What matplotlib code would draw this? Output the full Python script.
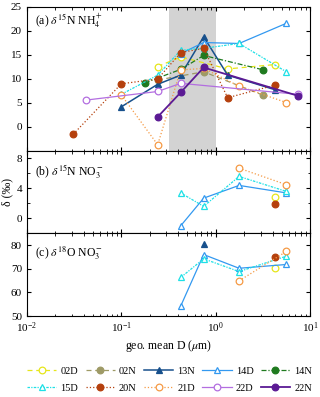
import numpy as np
import matplotlib
matplotlib.use('Agg')
import matplotlib.pyplot as plt
from matplotlib.ticker import LogLocator, NullFormatter, MultipleLocator

plt.rcParams['font.family'] = ['Liberation Serif', 'DejaVu Serif']
plt.rcParams['mathtext.fontset'] = 'stix'
plt.rcParams['font.size'] = 8

# geo. mean diameter of each size bin (um)
d_bins = [0.031, 0.042, 0.1, 0.178, 0.243, 0.426, 0.746, 1.34, 1.77, 3.2, 4.2, 5.6, 7.46]

# (a) d15N NH4+  : (bin index, value)
nh4 = {
    '02D': ([4, 5, 7, 10], [12.6, 14.6, 12.1, 13.0]),
    '02N': ([4, 6, 9], [9.8, 11.5, 6.6]),
    '13N': ([2, 4, 5, 6, 7, 10], [4.2, 8.9, 10.8, 18.8, 10.8, 7.8]),
    '14D': ([5, 6, 8, 11], [15.3, 17.6, 17.4, 21.6]),
    '14N': ([3, 5, 6, 9], [9.2, 12.0, 14.9, 11.9]),
    '15D': ([2, 4, 5, 6, 8, 11], [6.8, 10.8, 16.0, 16.4, 17.4, 11.5]),
    '20N': ([0, 2, 4, 5, 6, 7, 10], [-1.5, 9.0, 10.0, 15.5, 16.4, 6.1, 8.7]),
    '21D': ([2, 4, 5, 6, 8, 11], [6.7, -3.7, 11.9, 12.2, 8.5, 5.1]),
    '22D': ([1, 4, 5, 12], [5.6, 7.4, 9.1, 6.8]),
    '22N': ([4, 5, 6, 12], [2.1, 7.2, 12.4, 6.5]),
}

# (b) d15N NO3-
no3_n = {
    '02D': ([10], [2.8]),
    '14D': ([5, 6, 8, 11], [-1.0, 2.7, 4.4, 3.4]),
    '15D': ([5, 6, 8, 11], [3.4, 1.6, 5.6, 3.6]),
    '20N': ([10], [1.9]),
    '21D': ([8, 11], [6.7, 4.5]),
}

# (c) d18O NO3-
no3_o = {
    '02D': ([10], [70.3]),
    '13N': ([6], [80.3]),
    '14D': ([5, 6, 8, 11], [54.2, 76.0, 70.2, 71.8]),
    '15D': ([5, 6, 8, 11], [66.3, 74.2, 68.8, 75.3]),
    '20N': ([10], [75.0]),
    '21D': ([8, 11], [64.9, 77.3]),
}

samples = ['02D', '02N', '13N', '14D', '14N', '15D', '20N', '21D', '22D', '22N']
colors = {'02D': '#e6e61a', '02N': '#9e9a66', '13N': '#17508c', '14D': '#3399f0',
          '14N': '#1f7a1f', '15D': '#1ee0e6', '20N': '#b5400d', '21D': '#f59a45',
          '22D': '#b36ee0', '22N': '#5b1a94'}
lstyle = {'02D': (0, (4, 3)), '02N': (0, (4, 3)), '13N': '-', '14D': '-',
          '14N': (0, (4, 1.5, 1, 1.5)), '15D': (0, (2, 1, 1, 1)), '20N': ':', '21D': ':',
          '22D': '-', '22N': '-'}
marker = {'02D': 'o', '02N': 'o', '13N': '^', '14D': '^', '14N': 'o', '15D': '^',
          '20N': 'o', '21D': 'o', '22D': 'o', '22N': 'o'}
hollow = {'02D', '14D', '15D', '21D', '22D'}
lw = {'22N': 1.3, '13N': 1.1}

fig = plt.figure(figsize=(3.2, 3.97), dpi=100)
L, R = 0.084, 0.969
ax_a = fig.add_axes([L, 1 - 151 / 397, R - L, 144 / 397])
ax_b = fig.add_axes([L, 1 - 233.3 / 397, R - L, 82.3 / 397])
ax_c = fig.add_axes([L, 1 - 316 / 397, R - L, 82.7 / 397])

ax_a.axvspan(0.32, 1.0, color='#d3d3d3', lw=0, zorder=0)


def draw(ax, data):
    for s in samples:
        if s not in data:
            continue
        idx, vals = data[s]
        xs = [d_bins[i] for i in idx]
        c = colors[s]
        ax.plot(xs, vals, linestyle=lstyle[s], color=c, lw=lw.get(s, 0.9),
                marker=marker[s], ms=4.8, mew=0.9, mec=c,
                mfc='white' if s in hollow else c, label=s)


draw(ax_a, nh4)
draw(ax_b, no3_n)
draw(ax_c, no3_o)

for ax in (ax_a, ax_b, ax_c):
    ax.set_xscale('log')
    ax.set_xlim(0.01, 10)
    ax.xaxis.set_major_locator(LogLocator(base=10, numticks=10))
    ax.xaxis.set_minor_locator(LogLocator(base=10, subs=np.arange(2, 10), numticks=10))
    ax.xaxis.set_minor_formatter(NullFormatter())
    ax.tick_params(which='both', direction='in', top=True, right=True, labelsize=8)
    ax.tick_params(which='major', length=3)
    ax.tick_params(which='minor', length=1.8)
    for sp in ax.spines.values():
        sp.set_linewidth(0.8)

for ax in (ax_a, ax_b):
    ax.tick_params(labelbottom=False)

ax_a.set_ylim(-5, 25)
ax_a.set_yticks([0, 5, 10, 15, 20, 25])
ax_b.set_ylim(-2, 9)
ax_b.yaxis.set_major_locator(MultipleLocator(4))
ax_b.yaxis.set_minor_locator(MultipleLocator(2))
ax_c.set_ylim(50, 85)
ax_c.set_yticks([50, 60, 70, 80])

ax_a.text(0.03, 0.9, r'(a) $\delta^{15}$N NH$_4^+$', transform=ax_a.transAxes, fontsize=8.5, va='center')
ax_b.text(0.03, 0.76, r'(b) $\delta^{15}$N NO$_3^-$', transform=ax_b.transAxes, fontsize=8.5, va='center')
ax_c.text(0.03, 0.76, r'(c) $\delta^{18}$O NO$_3^-$', transform=ax_c.transAxes, fontsize=8.5, va='center')

ax_b.set_ylabel('δ (‰)', fontsize=8.5, labelpad=2)
ax_c.set_xlabel('geo. mean D ($\\mu$m)', fontsize=8.5, labelpad=2)

# legend filled row by row (5 per row)
handles, labels = ax_a.get_legend_handles_labels()
order = [k for pair in zip(range(5), range(5, 10)) for k in pair]
fig.legend([handles[k] for k in order], [labels[k] for k in order], ncol=5,
           loc='center', bbox_to_anchor=(0.53, 0.043),
           frameon=False, fontsize=7.5, handlelength=2.8, handletextpad=0.4,
           columnspacing=0.7, labelspacing=0.75)

fig.savefig('out.png', dpi=100)
